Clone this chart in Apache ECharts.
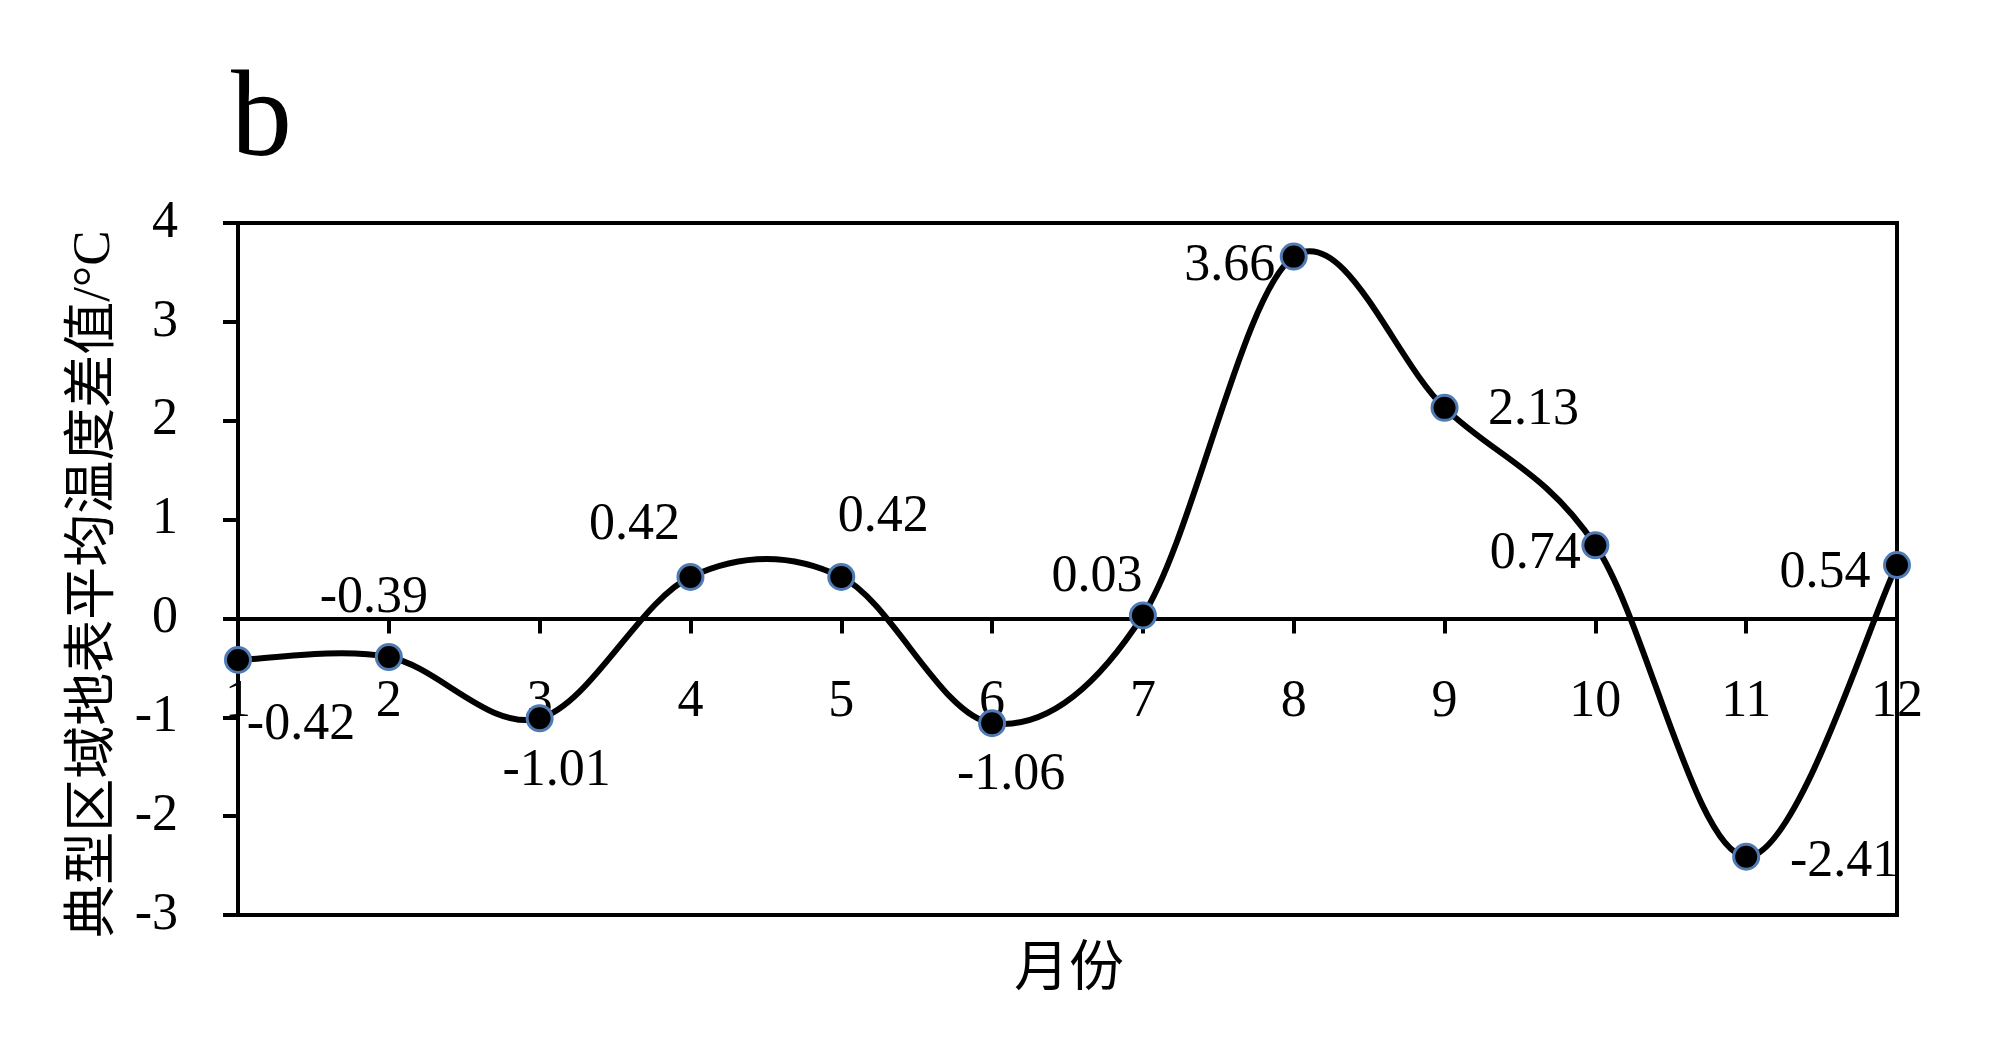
<!DOCTYPE html>
<html>
<head>
<meta charset="utf-8">
<script src="https://cdn.jsdelivr.net/npm/echarts@6/dist/echarts.min.js"></script>
<style>
	html, body { margin: 0; padding: 0; background: #fff; }
	#chart { width: 2000px; height: 1037px; }
</style>
</head>
<body>
<div id="chart"></div>
<script>
	// 月份
	var months = ['1', '2', '3', '4', '5', '6', '7', '8', '9', '10', '11', '12'];
	// 典型区域地表平均温度差值 (°C)
	var tempDiff = [-0.42, -0.39, -1.01, 0.42, 0.42, -1.06, 0.03, 3.66, 2.13, 0.74, -2.41, 0.54];
	// y 轴刻度
	var yMin = -3, yMax = 4, yStep = 1;

	// 数据标签相对点中心的偏移
	var labelOffsets = [
		[63, 65], [-15, -59], [17, 53], [-56, -52], [42, -60], [19, 52],
		[-46, -38], [-64, 10], [89, 2], [-60, 9], [98, 6], [-72, 8]
	];

	var serif = '"Liberation Serif", "Times New Roman", "Noto Sans CJK SC", serif';
	var gridTop = 223, gridBottom = 122, chartH = 1037;
	// x 轴放在 0 位置
	var plotH = chartH - gridTop - gridBottom;
	var zeroOffset = plotH * (0 - yMin) / (yMax - yMin);

	var chart = echarts.init(document.getElementById('chart'));

	var seriesData = tempDiff.map(function (v, i) {
		return {
			value: v,
			label: {
				position: 'inside',
				align: 'center',
				verticalAlign: 'middle',
				offset: labelOffsets[i]
			}
		};
	});

	// 平滑曲线 (类似 Excel 的 Catmull-Rom 平滑)
	function renderCurve(params, api) {
		var i = params.dataIndex;
		var n = tempDiff.length;
		if (i >= n - 1) return null;
		var pt = function (k) {
			k = Math.max(0, Math.min(n - 1, k));
			return api.coord([k, tempDiff[k]]);
		};
		var p0 = pt(i - 1), p1 = pt(i), p2 = pt(i + 1), p3 = pt(i + 2);
		var t = 1 / 6;
		return {
			type: 'bezierCurve',
			shape: {
				x1: p1[0], y1: p1[1],
				x2: p2[0], y2: p2[1],
				cpx1: p1[0] + (p2[0] - p0[0]) * t,
				cpy1: p1[1] + (p2[1] - p0[1]) * t,
				cpx2: p2[0] - (p3[0] - p1[0]) * t,
				cpy2: p2[1] - (p3[1] - p1[1]) * t
			},
			style: { stroke: '#000', lineWidth: 6, fill: null, lineCap: 'round' }
		};
	}

	var option = {
		animation: false,
		backgroundColor: '#fff',
		title: {
			text: 'b',
			left: 226,
			top: 57,
			textStyle: {
				fontFamily: serif,
				fontSize: 122,
				fontWeight: 'normal',
				color: '#000'
			}
		},
		grid: {
			left: 238,
			right: 103,
			top: gridTop,
			bottom: gridBottom,
			show: true,
			borderColor: '#000',
			borderWidth: 4,
			containLabel: false
		},
		xAxis: {
			type: 'category',
			data: months,
			boundaryGap: false,
			offset: -zeroOffset,
			axisLine: { onZero: false, lineStyle: { color: '#000', width: 4 } },
			axisTick: { show: true, inside: false, length: 15, alignWithLabel: true, lineStyle: { color: '#000', width: 4 } },
			axisLabel: {
				interval: 0,
				margin: 58,
				color: '#000',
				fontFamily: serif,
				fontSize: 52
			},
			splitLine: { show: false }
		},
		yAxis: {
			type: 'value',
			min: yMin,
			max: yMax,
			interval: yStep,
			name: '典型区域地表平均温度差值/°C',
			nameLocation: 'middle',
			nameRotate: 90,
			nameGap: 116,
			nameTextStyle: {
				fontFamily: serif,
				fontSize: 53,
				color: '#000',
				padding: [0, 30, 0, 0]
			},
			axisLine: { show: true, onZero: false, lineStyle: { color: '#000', width: 4 } },
			axisTick: { show: true, length: 15, lineStyle: { color: '#000', width: 4 } },
			axisLabel: {
				margin: 60,
				color: '#000',
				fontFamily: serif,
				fontSize: 52
			},
			splitLine: { show: false }
		},
		graphic: [{
			type: 'text',
			left: 1014,
			top: 943,
			style: {
				text: '月份',
				font: '55px ' + serif,
				fill: '#000'
			}
		}],
		series: [{
			type: 'custom',
			data: tempDiff.map(function (v, i) { return [i, v]; }),
			renderItem: renderCurve,
			silent: true,
			z: 2
		}, {
			type: 'line',
			data: seriesData,
			clip: false,
			z: 3,
			symbol: 'circle',
			symbolSize: 25,
			lineStyle: { width: 0, opacity: 0 },
			itemStyle: { color: '#000', borderColor: '#4f7bb5', borderWidth: 3 },
			label: {
				show: true,
				color: '#000',
				fontFamily: serif,
				fontSize: 52
			}
		}]
	};
	chart.setOption(option);
</script>
</body>
</html>
